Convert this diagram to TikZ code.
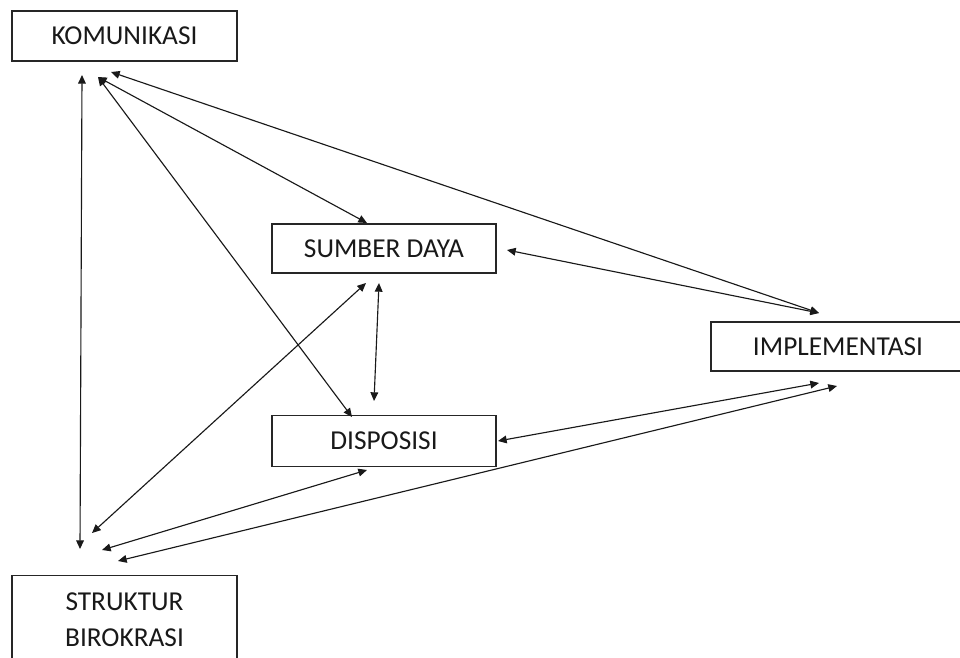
\documentclass[tikz,border=0pt]{standalone}
\usepackage{fontspec}
\setmainfont{Carlito}
\usetikzlibrary{arrows.meta}

\begin{document}
\begin{tikzpicture}[x=0.75pt,y=-0.75pt,
  factor/.style={draw=black!85,line width=1.1pt,inner sep=0pt,
    font=\fontsize{20.5pt}{27.5pt}\selectfont,text=black!90,align=center},
  link/.style={line width=0.85pt,draw=black!90,
    {Triangle[length=6.5pt,width=5.8pt]}-{Triangle[length=6.5pt,width=5.8pt]}}]
  \clip (0,0) rectangle (960,657);
  \fill[white] (0,0) rectangle (960,657);

  % factor boxes
  \node[factor,minimum width=225*0.75pt,minimum height=50*0.75pt] (kom) at (124.5,36) {KOMUNIKASI};
  \node[factor,minimum width=224*0.75pt,minimum height=49*0.75pt] (sd) at (384,248.5) {SUMBER DAYA};
  \node[factor,minimum width=254*0.75pt,minimum height=49*0.75pt] (imp) at (838,346.5) {IMPLEMENTASI};
  \node[factor,minimum width=224*0.75pt,minimum height=51*0.75pt] (disp) at (384,441) {DISPOSISI};
  \node[factor,minimum width=225*0.75pt,minimum height=88*0.75pt,anchor=north] (sb) at (124.5,575) {STRUKTUR\\BIROKRASI};

  % free ends of the connectors
  \coordinate (k1) at (82,75);
  \coordinate (k2) at (98,77);
  \coordinate (k3) at (111,72);
  \coordinate (s1) at (367,223);
  \coordinate (s2) at (507,250);
  \coordinate (s3) at (379,283);
  \coordinate (s4) at (366,283);
  \coordinate (i1) at (819,313);
  \coordinate (i2) at (819,383);
  \coordinate (i3) at (837,386);
  \coordinate (d1) at (352,417);
  \coordinate (d2) at (374,401);
  \coordinate (d3) at (498,441);
  \coordinate (d4) at (367,470);
  \coordinate (b1) at (80,549);
  \coordinate (b2) at (92,533);
  \coordinate (b3) at (102,550);
  \coordinate (b4) at (118,561);

  % connectors
  \draw[link] (k1) -- (b1);
  \draw[link] (k2) -- (s1);
  \draw[link] (k2) -- (d1);
  \draw[link] (k3) -- (i1);
  \draw[link] (s2) -- (i1);
  \draw[link] (s3) -- (d2);
  \draw[link] (b2) -- (s4);
  \draw[link] (b3) -- (d4);
  \draw[link] (b4) -- (i3);
  \draw[link] (d3) -- (i2);
\end{tikzpicture}
\end{document}
